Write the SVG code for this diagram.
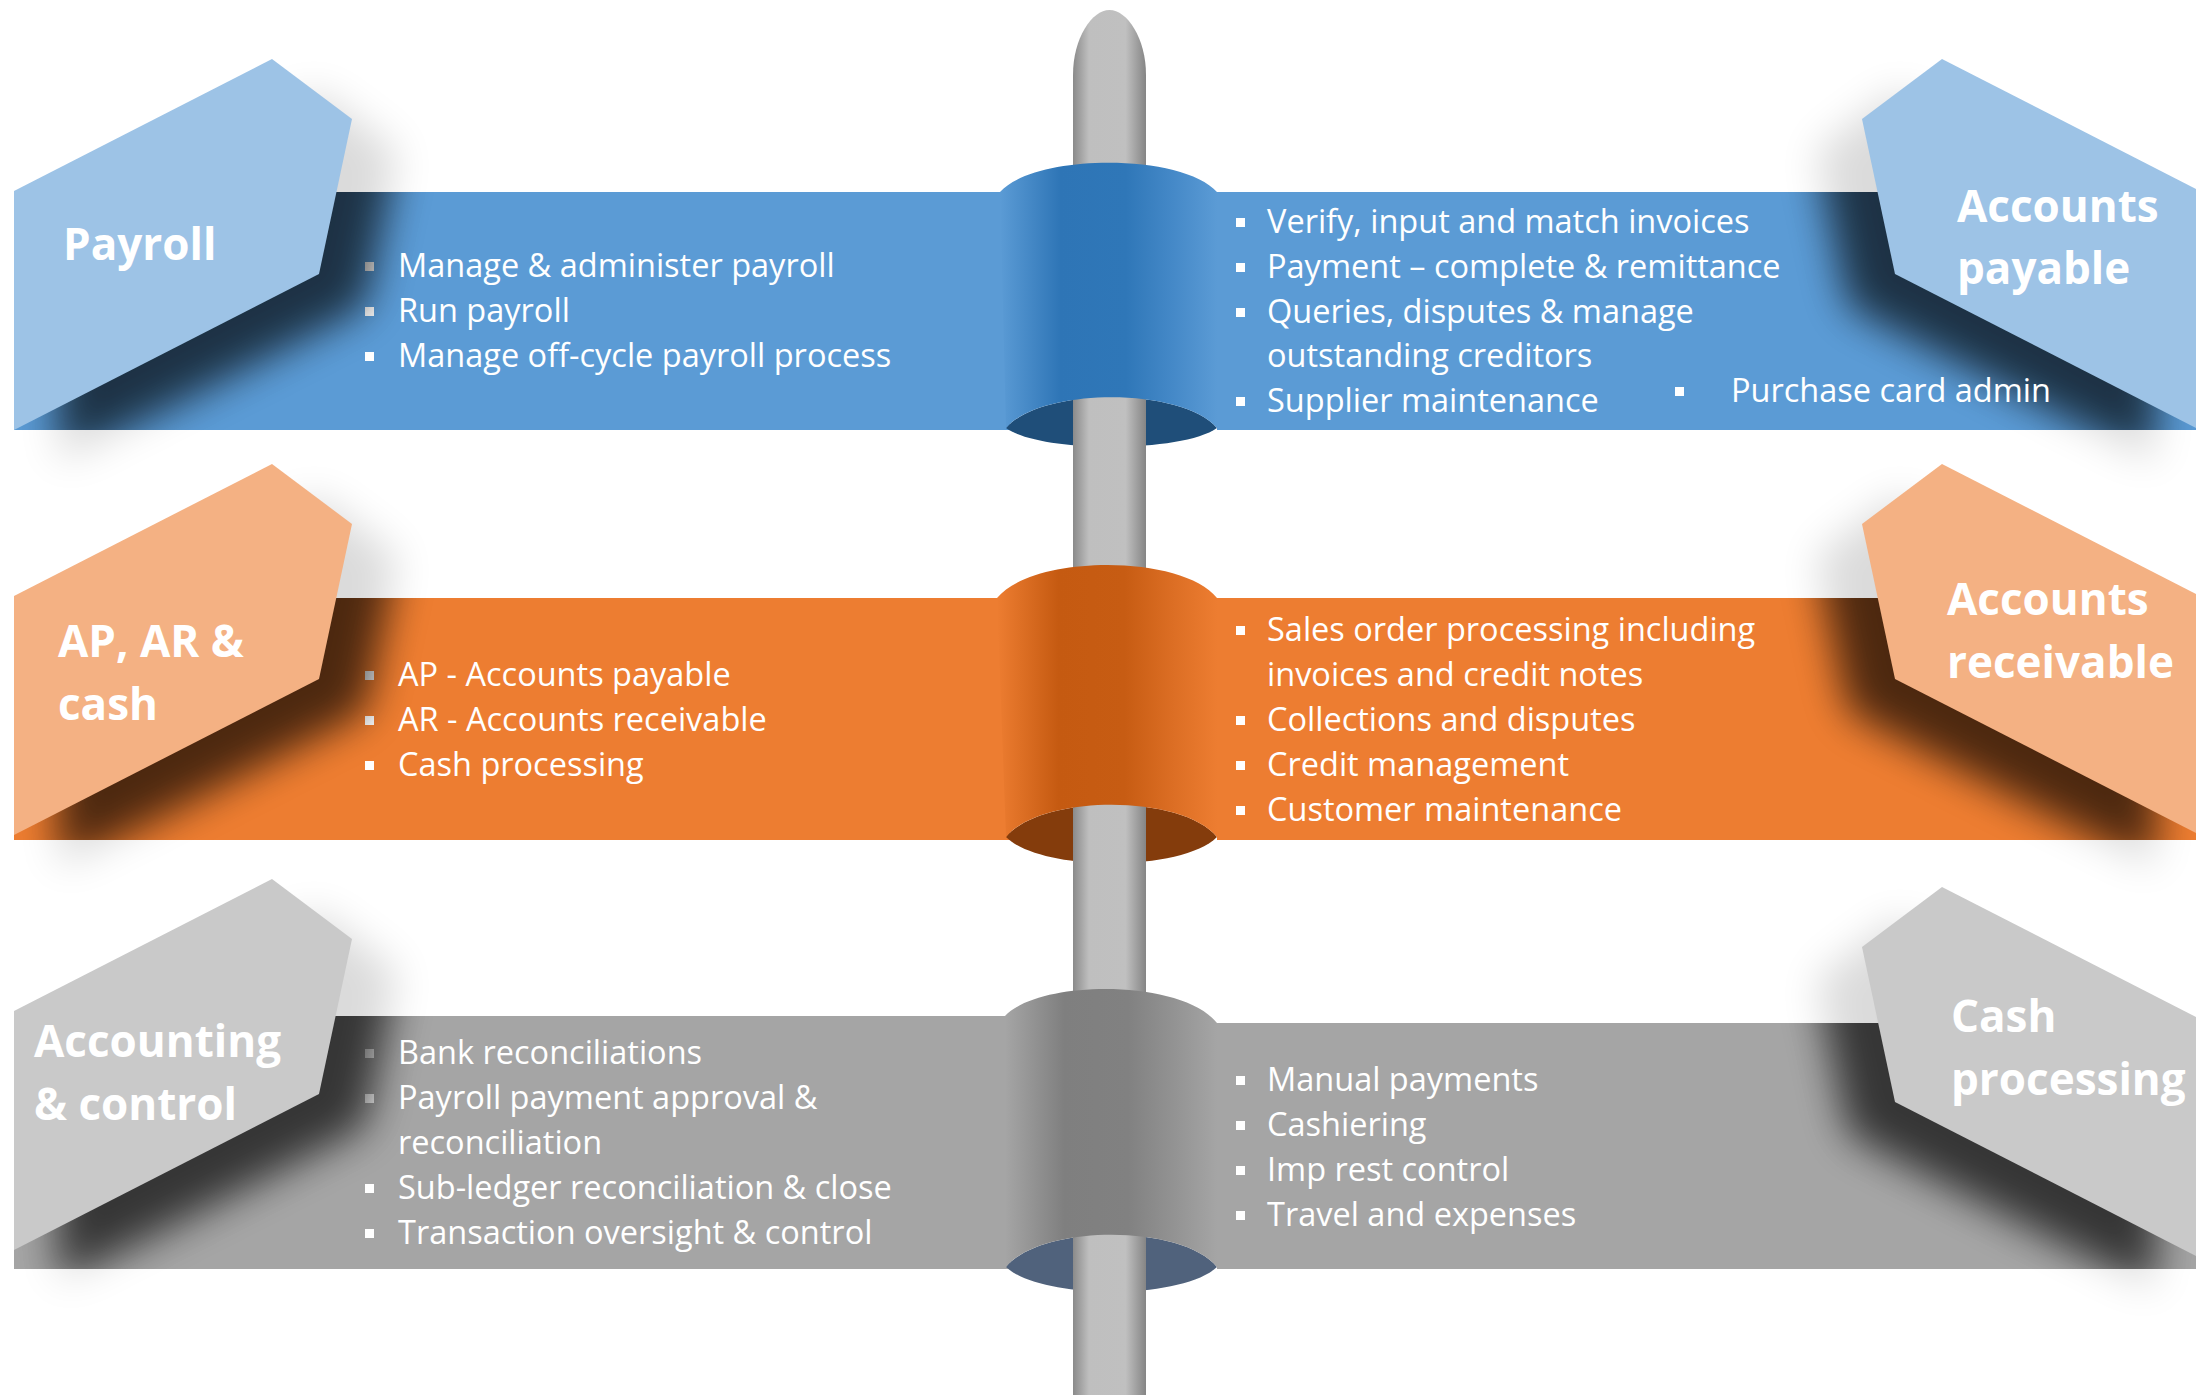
<svg xmlns="http://www.w3.org/2000/svg" width="2196" height="1395" viewBox="0 0 2196 1395">
<style>
  .t{font-family:"Open Sans","Noto Sans","DejaVu Sans",sans-serif;fill:#fff;font-size:32.5px}
  .h{font-family:"Open Sans","Noto Sans","DejaVu Sans",sans-serif;fill:#fff;font-size:44px;font-weight:700}
  .blt{fill:#fff}
  .sh{fill:#000}
  .shin{opacity:0.62}
  .shout{opacity:0.14}
</style>
<defs>
  <filter id="blur" x="-50%" y="-50%" width="200%" height="200%"><feGaussianBlur stdDeviation="20"/></filter>
  <linearGradient id="pole" x1="0" y1="0" x2="1" y2="0">
    <stop offset="0" stop-color="#8A8A8A"/><stop offset="0.22" stop-color="#BFBFBF"/>
    <stop offset="0.72" stop-color="#C0C0C0"/><stop offset="1" stop-color="#858585"/>
  </linearGradient>
  <linearGradient id="wBlue" x1="0" y1="0" x2="1" y2="0">
    <stop offset="0" stop-color="#5B9BD5"/><stop offset="0.28" stop-color="#2E75B6"/>
    <stop offset="0.58" stop-color="#2F77B8"/><stop offset="0.8" stop-color="#4589C8"/><stop offset="1" stop-color="#5B9BD5"/>
  </linearGradient>
  <linearGradient id="wOrange" x1="0" y1="0" x2="1" y2="0">
    <stop offset="0" stop-color="#ED7D31"/><stop offset="0.28" stop-color="#C55A11"/>
    <stop offset="0.58" stop-color="#C75C13"/><stop offset="0.8" stop-color="#DC6E24"/><stop offset="1" stop-color="#ED7D31"/>
  </linearGradient>
  <linearGradient id="wGray" x1="0" y1="0" x2="1" y2="0">
    <stop offset="0" stop-color="#A5A5A5"/><stop offset="0.28" stop-color="#7F7F7F"/>
    <stop offset="0.58" stop-color="#818181"/><stop offset="0.8" stop-color="#939393"/><stop offset="1" stop-color="#A5A5A5"/>
  </linearGradient>
  <clipPath id="cB1"><rect x="14" y="192" width="996" height="238"/></clipPath>
  <clipPath id="cB2"><rect x="1217" y="192" width="979" height="238"/></clipPath>
  <clipPath id="cO1"><rect x="14" y="598" width="996" height="242"/></clipPath>
  <clipPath id="cO2"><rect x="1217" y="598" width="979" height="242"/></clipPath>
  <clipPath id="cG1"><rect x="14" y="1016" width="996" height="253"/></clipPath>
  <clipPath id="cG2"><rect x="1217" y="1023" width="979" height="246"/></clipPath>
  <polygon id="tagL" points="14,132 272,0 352,60 319,215 14,371"/>
  <polygon id="tagR" points="1862,60 1942,0 2200,132 2200,371 1895,215"/>
</defs>

<!-- Payroll -->
<g id="payroll">
  <rect x="14" y="192" width="996" height="238" fill="#5B9BD5"/>
  <rect class="blt" x="365" y="262" width="9" height="9"/>
  <rect class="blt" x="365" y="307" width="9" height="9"/>
  <rect class="blt" x="365" y="352" width="9" height="9"/>
  <g clip-path="url(#cB1)"><g class="shin" filter="url(#blur)"><use href="#tagL" class="sh" x="45" y="91"/></g></g>
  <g class="shout" filter="url(#blur)"><use href="#tagL" class="sh" x="45" y="91"/></g>
  <use href="#tagL" y="59" fill="#9DC3E6"/>
  <text class="h" x="63" y="260">Payroll</text>
  <text class="t" x="398" y="277">Manage &amp; administer payroll</text>
  <text class="t" x="398" y="322">Run payroll</text>
  <text class="t" x="398" y="367">Manage off-cycle payroll process</text>
</g>

<!-- Accounts payable -->
<g id="accounts-payable">
  <rect x="1217" y="192" width="979" height="238" fill="#5B9BD5"/>
  <rect class="blt" x="1236" y="218" width="9" height="9"/>
  <rect class="blt" x="1236" y="263" width="9" height="9"/>
  <rect class="blt" x="1236" y="308" width="9" height="9"/>
  <rect class="blt" x="1236" y="397" width="9" height="9"/>
  <rect class="blt" x="1675" y="387" width="9" height="9"/>
  <g clip-path="url(#cB2)"><g class="shin" filter="url(#blur)"><use href="#tagR" class="sh" x="-45" y="91"/></g></g>
  <g class="shout" filter="url(#blur)"><use href="#tagR" class="sh" x="-45" y="91"/></g>
  <use href="#tagR" y="59" fill="#9DC3E6"/>
  <text class="h" x="1957" y="222">Accounts</text>
  <text class="h" x="1957" y="284">payable</text>
  <text class="t" x="1267" y="233">Verify, input and match invoices</text>
  <text class="t" x="1267" y="278">Payment – complete &amp; remittance</text>
  <text class="t" x="1267" y="323">Queries, disputes &amp; manage</text>
  <text class="t" x="1267" y="367">outstanding creditors</text>
  <text class="t" x="1267" y="412">Supplier maintenance</text>
  <text class="t" x="1731" y="402">Purchase card admin</text>
</g>

<!-- AP, AR & cash -->
<g id="ap-ar-cash">
  <rect x="14" y="598" width="996" height="242" fill="#ED7D31"/>
  <rect class="blt" x="365" y="671" width="9" height="9"/>
  <rect class="blt" x="365" y="716" width="9" height="9"/>
  <rect class="blt" x="365" y="761" width="9" height="9"/>
  <g clip-path="url(#cO1)"><g class="shin" filter="url(#blur)"><use href="#tagL" class="sh" x="45" y="496"/></g></g>
  <g class="shout" filter="url(#blur)"><use href="#tagL" class="sh" x="45" y="496"/></g>
  <use href="#tagL" y="464" fill="#F4B183"/>
  <text class="h" x="58" y="657">AP, AR &amp;</text>
  <text class="h" x="58" y="720">cash</text>
  <text class="t" x="398" y="686">AP - Accounts payable</text>
  <text class="t" x="398" y="731">AR - Accounts receivable</text>
  <text class="t" x="398" y="776">Cash processing</text>
</g>

<!-- Accounts receivable -->
<g id="accounts-receivable">
  <rect x="1217" y="598" width="979" height="242" fill="#ED7D31"/>
  <rect class="blt" x="1236" y="626" width="9" height="9"/>
  <rect class="blt" x="1236" y="716" width="9" height="9"/>
  <rect class="blt" x="1236" y="761" width="9" height="9"/>
  <rect class="blt" x="1236" y="806" width="9" height="9"/>
  <g clip-path="url(#cO2)"><g class="shin" filter="url(#blur)"><use href="#tagR" class="sh" x="-45" y="496"/></g></g>
  <g class="shout" filter="url(#blur)"><use href="#tagR" class="sh" x="-45" y="496"/></g>
  <use href="#tagR" y="464" fill="#F4B183"/>
  <text class="h" x="1947" y="615">Accounts</text>
  <text class="h" x="1947" y="678">receivable</text>
  <text class="t" x="1267" y="641">Sales order processing including</text>
  <text class="t" x="1267" y="686">invoices and credit notes</text>
  <text class="t" x="1267" y="731">Collections and disputes</text>
  <text class="t" x="1267" y="776">Credit management</text>
  <text class="t" x="1267" y="821">Customer maintenance</text>
</g>

<!-- Accounting & control -->
<g id="accounting-control">
  <rect x="14" y="1016" width="996" height="253" fill="#A5A5A5"/>
  <rect class="blt" x="365" y="1049" width="9" height="9"/>
  <rect class="blt" x="365" y="1094" width="9" height="9"/>
  <rect class="blt" x="365" y="1184" width="9" height="9"/>
  <rect class="blt" x="365" y="1229" width="9" height="9"/>
  <g clip-path="url(#cG1)"><g class="shin" filter="url(#blur)"><use href="#tagL" class="sh" x="45" y="911"/></g></g>
  <g class="shout" filter="url(#blur)"><use href="#tagL" class="sh" x="45" y="911"/></g>
  <use href="#tagL" y="879" fill="#C9C9C9"/>
  <text class="h" x="34" y="1057">Accounting</text>
  <text class="h" x="34" y="1120">&amp; control</text>
  <text class="t" x="398" y="1064">Bank reconciliations</text>
  <text class="t" x="398" y="1109">Payroll payment approval &amp;</text>
  <text class="t" x="398" y="1154">reconciliation</text>
  <text class="t" x="398" y="1199">Sub-ledger reconciliation &amp; close</text>
  <text class="t" x="398" y="1244">Transaction oversight &amp; control</text>
</g>

<!-- Cash processing -->
<g id="cash-processing">
  <rect x="1217" y="1023" width="979" height="246" fill="#A5A5A5"/>
  <rect class="blt" x="1236" y="1076" width="9" height="9"/>
  <rect class="blt" x="1236" y="1121" width="9" height="9"/>
  <rect class="blt" x="1236" y="1166" width="9" height="9"/>
  <rect class="blt" x="1236" y="1211" width="9" height="9"/>
  <g clip-path="url(#cG2)"><g class="shin" filter="url(#blur)"><use href="#tagR" class="sh" x="-45" y="919"/></g></g>
  <g class="shout" filter="url(#blur)"><use href="#tagR" class="sh" x="-45" y="919"/></g>
  <use href="#tagR" y="887" fill="#C9C9C9"/>
  <text class="h" x="1951" y="1032">Cash</text>
  <text class="h" x="1951" y="1095">processing</text>
  <text class="t" x="1267" y="1091">Manual payments</text>
  <text class="t" x="1267" y="1136">Cashiering</text>
  <text class="t" x="1267" y="1181">Imp rest control</text>
  <text class="t" x="1267" y="1226">Travel and expenses</text>
</g>

<!-- central spine -->
<g id="spine">
  <path d="M1006,428 C1041,387 1182,387 1217,428 C1182,453 1041,453 1006,428 Z" fill="#1F4E79"/>
  <path d="M1006,837 C1041,794 1182,794 1217,837 C1182,872 1041,872 1006,837 Z" fill="#843C0C"/>
  <path d="M1006,1267 C1041,1224 1182,1224 1217,1267 C1182,1300 1041,1300 1006,1267 Z" fill="#50627C"/>
  <path d="M1073,1395 L1073,75 C1073,38 1092,10 1109.5,10 C1127,10 1146,38 1146,75 L1146,1395 Z" fill="url(#pole)"/>
  <path d="M1000,192 C1035,153 1182,153 1217,192 L1217,428 C1182,387 1041,387 1006,428 Z" fill="url(#wBlue)"/>
  <path d="M997,598 C1033,554 1182,554 1217,598 L1217,837 C1182,794 1041,794 1006,837 Z" fill="url(#wOrange)"/>
  <path d="M1005,1016 C1040,979 1182,979 1217,1023 L1217,1267 C1182,1224 1041,1224 1006,1267 Z" fill="url(#wGray)"/>
</g>
</svg>
